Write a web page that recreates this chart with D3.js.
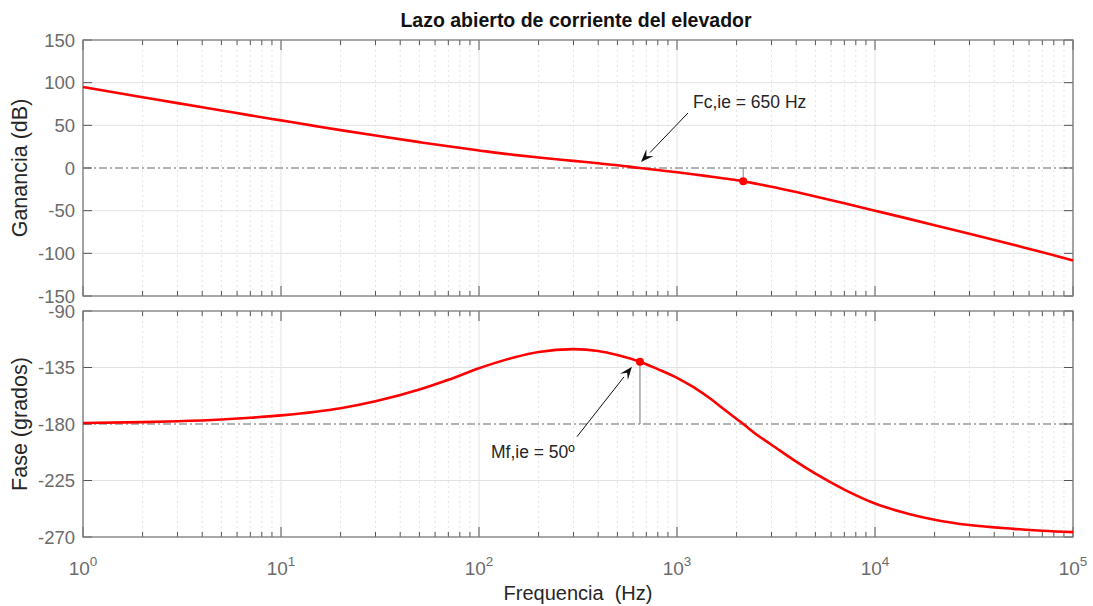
<!DOCTYPE html>
<html><head><meta charset="utf-8">
<script src="https://cdn.jsdelivr.net/npm/d3@7"></script>
<style>
html,body{margin:0;padding:0;background:#fff;}
text{font-family:"Liberation Sans",Arial,sans-serif;}
</style></head>
<body><svg id="c" width="1093" height="606"></svg>
<script>
// ---- data ----
const title = "Lazo abierto de corriente del elevador";
const freqHz = [1, 2, 3, 5, 7, 10, 15, 20, 30, 50, 70, 100, 150, 200, 300, 400, 500, 650, 800,
  1000, 1200, 1500, 1700, 2000, 2160, 2500, 3000, 4000, 5000, 7000, 10000, 15000, 20000, 30000, 50000, 70000, 100000];
const gainDb = [95, 83, 76, 67.4, 61.7, 55.8, 49.1, 44.4, 38, 30.3, 25.4, 20.6, 15.4, 12.3, 8.3, 5.5, 3.2, 0, -2.4,
  -5, -7.3, -10.3, -12, -14.3, -15.5, -18.3, -21.9, -28.2, -33.3, -41.3, -50, -59.9, -67, -77.1, -90, -98.6, -108.3];
const phaseDeg = [-179.2, -178.5, -177.8, -176.4, -175, -173.1, -170.2, -167.4, -161.9, -152.6, -144.8, -135.6, -127, -122.6, -120.4, -121.8, -125, -130.4, -136.3,
  -143.2, -150.3, -160.7, -167.5, -176, -180, -188, -196.5, -210, -219.6, -232.2, -243.3, -251.8, -256.2, -260.5, -263.5, -265, -266.1];
const gainTicks = [150, 100, 50, 0, -50, -100, -150];
const phaseTicks = [-90, -135, -180, -225, -270];
const xDecades = [0, 1, 2, 3, 4, 5];
const gainMarker = {f: 2160, v: -15.5};
const phaseMarker = {f: 650, v: -130.4};
const gainNote = "Fc,ie = 650 Hz";
const phaseNote = "Mf,ie = 50º";

// ---- layout ----
const svg = d3.select("#c");
svg.append("rect").attr("width",1093).attr("height",606).attr("fill","#fff");
const L = 83, R = 1073;
const panels = [
  {top: 40, bottom: 296, dom: [-150, 150], ticks: gainTicks, vals: gainDb, ref: 0, label: "Ganancia (dB)"},
  {top: 311, bottom: 537, dom: [-270, -90], ticks: phaseTicks, vals: phaseDeg, ref: -180, label: "Fase (grados)"}
];
const x = d3.scaleLog().domain([1, 1e5]).range([L, R]);
const minor = [];
xDecades.slice(0, -1).forEach(k => { for (let m = 2; m <= 9; m++) minor.push(m * Math.pow(10, k)); });
const major = xDecades.map(k => Math.pow(10, k));

panels.forEach(p => {
  p.y = d3.scaleLinear().domain(p.dom).range([p.bottom, p.top]);
  const g = svg.append("g");
  // minor grid
  g.selectAll(".mg").data(minor).enter().append("line")
    .attr("x1", d => x(d)).attr("x2", d => x(d)).attr("y1", p.top).attr("y2", p.bottom)
    .attr("stroke", "#e4e4e4").attr("stroke-width", 1).attr("stroke-dasharray", "2,3");
  // major grid x
  g.selectAll(".Mg").data(major).enter().append("line")
    .attr("x1", d => x(d)).attr("x2", d => x(d)).attr("y1", p.top).attr("y2", p.bottom)
    .attr("stroke", "#e2e2e2").attr("stroke-width", 1);
  // y grid
  g.selectAll(".yg").data(p.ticks.filter(t => t !== p.ref && t !== p.dom[0] && t !== p.dom[1])).enter().append("line")
    .attr("x1", L).attr("x2", R).attr("y1", d => p.y(d)).attr("y2", d => p.y(d))
    .attr("stroke", "#e2e2e2").attr("stroke-width", 1);
  // reference dash-dot line
  g.append("line").attr("x1", L).attr("x2", R).attr("y1", p.y(p.ref)).attr("y2", p.y(p.ref))
    .attr("stroke", "#9a9a9a").attr("stroke-width", 1.3).attr("stroke-dasharray", "8,3,2,3");
  // ticks x (bottom & top, inward)
  const tk = g.append("g").attr("stroke", "#555").attr("stroke-width", 1);
  minor.forEach(d => {
    tk.append("line").attr("x1", x(d)).attr("x2", x(d)).attr("y1", p.bottom).attr("y2", p.bottom - 5);
    tk.append("line").attr("x1", x(d)).attr("x2", x(d)).attr("y1", p.top).attr("y2", p.top + 5);
  });
  major.forEach(d => {
    tk.append("line").attr("x1", x(d)).attr("x2", x(d)).attr("y1", p.bottom).attr("y2", p.bottom - 10);
    tk.append("line").attr("x1", x(d)).attr("x2", x(d)).attr("y1", p.top).attr("y2", p.top + 10);
  });
  p.ticks.forEach(t => {
    tk.append("line").attr("x1", L).attr("x2", L + 9).attr("y1", p.y(t)).attr("y2", p.y(t));
    tk.append("line").attr("x1", R).attr("x2", R - 9).attr("y1", p.y(t)).attr("y2", p.y(t));
  });
  // box
  g.append("rect").attr("x", L).attr("y", p.top).attr("width", R - L).attr("height", p.bottom - p.top)
    .attr("fill", "none").attr("stroke", "#7a7a7a").attr("stroke-width", 1.3);
  // y tick labels
  g.selectAll(".yl").data(p.ticks).enter().append("text")
    .attr("x", L - 8).attr("y", d => p.y(d)).attr("dy", "0.36em").attr("text-anchor", "end")
    .attr("font-size", 18.5).attr("fill", "#6b6b6b").text(d => d);
  // y label
  g.append("text").attr("transform", `translate(27,${(p.top + p.bottom) / 2}) rotate(-90)`)
    .attr("text-anchor", "middle").attr("font-size", 21.5).attr("fill", "#262626").text(p.label);
  // curve
  const line = d3.line().x((d, i) => x(freqHz[i])).y(d => p.y(d)).curve(d3.curveMonotoneX);
  g.append("path").attr("d", line(p.vals)).attr("fill", "none").attr("stroke", "#ff0000").attr("stroke-width", 2.6)
    .attr("stroke-linejoin", "round");
});

const yG = panels[0].y, yP = panels[1].y;
// markers & stems
svg.append("line").attr("x1", x(gainMarker.f)).attr("x2", x(gainMarker.f)).attr("y1", yG(0)).attr("y2", yG(gainMarker.v))
  .attr("stroke", "#8a8a8a").attr("stroke-width", 1);
svg.append("line").attr("x1", x(phaseMarker.f)).attr("x2", x(phaseMarker.f)).attr("y1", yP(-180)).attr("y2", yP(phaseMarker.v))
  .attr("stroke", "#8a8a8a").attr("stroke-width", 1.2);
svg.append("circle").attr("cx", x(gainMarker.f)).attr("cy", yG(gainMarker.v)).attr("r", 4).attr("fill", "#ff0000");
svg.append("circle").attr("cx", x(phaseMarker.f)).attr("cy", yP(phaseMarker.v)).attr("r", 4).attr("fill", "#ff0000");

// arrows
function arrow(x1, y1, x2, y2) {
  const ang = Math.atan2(y2 - y1, x2 - x1), len = 13, w = 5;
  const bx = x2 - len * Math.cos(ang), by = y2 - len * Math.sin(ang);
  svg.append("line").attr("x1", x1).attr("y1", y1).attr("x2", bx).attr("y2", by).attr("stroke", "#111").attr("stroke-width", 1);
  const px = -Math.sin(ang) * w, py = Math.cos(ang) * w;
  const nx = x2 - 0.6 * len * Math.cos(ang), ny = y2 - 0.6 * len * Math.sin(ang);
  svg.append("path").attr("d", `M${x2},${y2}L${bx + px},${by + py}L${nx},${ny}L${bx - px},${by - py}Z`).attr("fill", "#111");
}
const fcX = x(phaseMarker.f), fcY = yG(0);
arrow(fcX + 48, fcY - 55, fcX + 1, fcY - 6);
svg.append("text").attr("x", fcX + 53).attr("y", fcY - 60).attr("font-size", 17.5).attr("fill", "#262626").text(gainNote);
const mfX = x(phaseMarker.f), mfY = yP(phaseMarker.v);
arrow(mfX - 63, mfY + 75, mfX - 8, mfY + 5);
svg.append("text").attr("x", mfX - 149).attr("y", mfY + 96).attr("font-size", 17.5).attr("fill", "#262626").text(phaseNote);

// x tick labels (bottom)
const xl = svg.append("g");
xDecades.forEach(k => {
  const t = xl.append("text").attr("x", x(Math.pow(10, k))).attr("y", 575).attr("text-anchor", "middle")
    .attr("font-size", 19).attr("fill", "#6b6b6b");
  t.append("tspan").text("10");
  t.append("tspan").attr("dy", -9).attr("font-size", 13.5).text(k);
});
svg.append("text").attr("x", (L + R) / 2).attr("y", 600).attr("text-anchor", "middle")
  .attr("font-size", 20).attr("fill", "#262626").attr("xml:space", "preserve").style("white-space", "pre").text("Frequencia  (Hz)");
svg.append("text").attr("x", (L + R) / 2 - 2).attr("y", 27).attr("text-anchor", "middle")
  .attr("font-size", 19.5).attr("font-weight", "bold").attr("fill", "#111").text(title);
</script></body></html>
